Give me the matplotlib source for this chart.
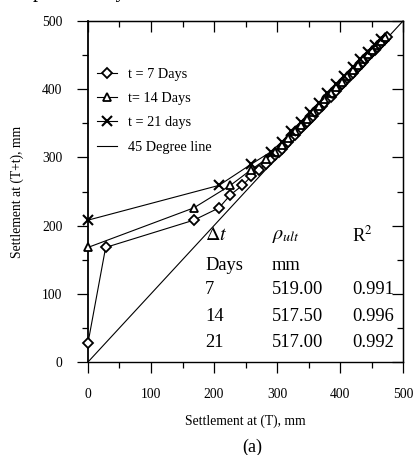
import numpy as np
import matplotlib.pyplot as plt

plt.rcParams['font.family'] = ['Liberation Serif', 'DejaVu Serif']
plt.rcParams['mathtext.fontset'] = 'stix'

# weekly settlement readings (mm), one every 7 days
settlement = [0, 28, 168, 208, 226, 245, 259, 272, 282, 290,
              297, 303, 308, 313, 318, 323, 328, 333, 338, 343,
              347, 352, 357, 361, 366, 371, 375, 380, 385, 389,
              394, 398, 403, 407, 411, 416, 420, 424, 428, 432,
              436, 440, 444, 448, 451, 455, 458, 462, 465, 468,
              471, 474, 477]

lag_steps = [1, 2, 3]
series_labels = ['t = 7 Days', 't= 14 Days', 't = 21 days']
series_markers = ['D', '^', 'x']
marker_sizes = [5.2, 6, 7]

lag_days = ['7', '14', '21']
rho_ult = ['519.00', '517.50', '517.00']
r_squared = ['0.991', '0.996', '0.992']

fig = plt.figure(figsize=(4.14, 4.55), dpi=100)
ax = fig.add_axes([88/414, 1 - 362/455, 315/414, 341/455])

S = np.array(settlement, dtype=float)
for step, lab, mk, ms in zip(lag_steps, series_labels, series_markers, marker_sizes):
    s = S[::step]
    ax.plot(s[:-1], s[1:], color='black', lw=0.8, marker=mk, ms=ms,
            mfc='white', mec='black', mew=1.3 if mk != 'x' else 1.5,
            label=lab, clip_on=False, zorder=3)

ax.plot([0, 500], [0, 500], color='black', lw=0.8, label='45 Degree line',
        clip_on=False, zorder=2)

ax.set_xlim(0, 500)
ax.set_ylim(0, 500)
ticks = np.arange(0, 501, 100)
minor = np.arange(50, 500, 100)
ax.set_xticks(ticks)
ax.set_yticks(ticks)
ax.set_xticks(minor, minor=True)
ax.set_yticks(minor, minor=True)
ax.tick_params(which='major', direction='out', length=8, width=0.9,
               labelsize=9.8, pad=10.5)
ax.tick_params(which='minor', direction='out', length=4.5, width=0.9)
for sp in ax.spines.values():
    sp.set_linewidth(1.0)
ax.spines['left'].set_linewidth(1.3)

# inward ticks on top and right sides
top = ax.secondary_xaxis('top')
top.set_xticks(ticks)
top.set_xticks(minor, minor=True)
top.tick_params(which='major', direction='in', length=8, width=0.9, labeltop=False)
top.tick_params(which='minor', direction='in', length=4.5, width=0.9)
right = ax.secondary_yaxis('right')
right.set_yticks(ticks)
right.set_yticks(minor, minor=True)
right.tick_params(which='major', direction='in', length=8, width=0.9, labelright=False)
right.tick_params(which='minor', direction='in', length=4.5, width=0.9)

ax.set_xlabel('Settlement at (T), mm', fontsize=9.8)
ax.set_ylabel('Settlement at (T+t), mm', fontsize=9.8)
ax.xaxis.set_label_coords(0.5, -0.153)
ax.yaxis.set_label_coords(-0.203, 0.5)

leg = ax.legend(loc='upper left', bbox_to_anchor=(0.029, 0.862), frameon=False,
                fontsize=10.3, handlelength=1.4, handletextpad=0.75,
                labelspacing=0.78, borderpad=0, borderaxespad=0)

# summary of the fitted ultimate settlements
fs = 13.3
col_x = [186, 292, 419]
ax.text(col_x[0], 186, r'$\Delta t$', fontsize=14.5, va='center')
ax.text(col_x[1], 186, r'$\rho_{ult}$', fontsize=14.5, va='center')
ax.text(col_x[2], 186, r'R$^2$', fontsize=fs, va='center')
ax.text(col_x[0], 142, 'Days', fontsize=fs, va='center')
ax.text(col_x[1], 142, 'mm', fontsize=fs, va='center')
for row_y, d, rho, r2 in zip([106, 66, 28], lag_days, rho_ult, r_squared):
    ax.text(col_x[0], row_y, d, fontsize=fs, va='center')
    ax.text(col_x[1], row_y, rho, fontsize=fs, va='center')
    ax.text(col_x[2], row_y, r2, fontsize=fs, va='center')

fig.text(252/414, 1 - 447/455, '(a)', fontsize=13, ha='center', va='center')
# caption line above the panel, only its lower edge falls inside the figure
fig.text(33/414, 1 + 3/455, 'pressure by', fontsize=14.5, ha='left', va='baseline')

fig.savefig('out.png', dpi=100)
